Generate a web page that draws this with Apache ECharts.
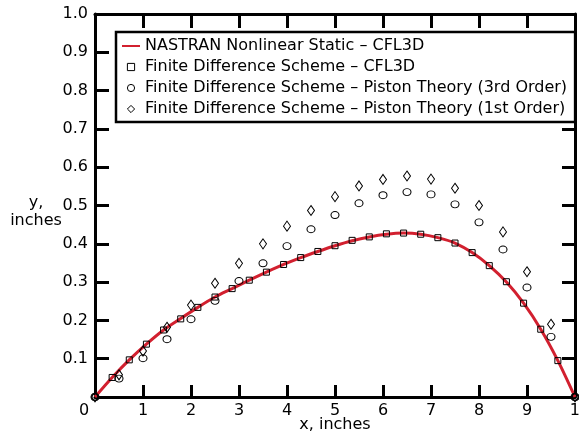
<!DOCTYPE html>
<html>
<head>
<meta charset="utf-8">
<script src="https://cdn.jsdelivr.net/npm/echarts@6/dist/echarts.min.js"></script>
<style>
    html, body { margin: 0; padding: 0; background: #fff; }
    #chart { width: 579px; height: 436px; }
</style>
</head>
<body>
<div id="chart"></div>
<script>
// x positions of the CFL3D / NASTRAN points (inches)
var fdX = [0, 0.357, 0.714, 1.071, 1.429, 1.786, 2.143, 2.5, 2.857, 3.214, 3.571, 3.929, 4.286, 4.643,
    5.0, 5.357, 5.714, 6.071, 6.429, 6.786, 7.143, 7.5, 7.857, 8.214, 8.571, 8.929, 9.286, 9.643, 10];
var nastranY = [0, 0.051, 0.097, 0.138, 0.175, 0.205, 0.234, 0.261, 0.283, 0.305, 0.326, 0.346, 0.364, 0.380,
    0.395, 0.408, 0.418, 0.425, 0.428, 0.425, 0.416, 0.402, 0.377, 0.343, 0.300, 0.245, 0.177, 0.095, 0];
var fdCfl3dY = [0, 0.051, 0.097, 0.138, 0.175, 0.204, 0.234, 0.261, 0.283, 0.305, 0.326, 0.346, 0.364, 0.380,
    0.395, 0.409, 0.418, 0.426, 0.428, 0.425, 0.416, 0.402, 0.377, 0.343, 0.301, 0.245, 0.177, 0.095, 0];
// piston theory points
var pistonX = [0, 0.5, 1, 1.5, 2, 2.5, 3, 3.5, 4, 4.5, 5, 5.5, 6, 6.5, 7, 7.5, 8, 8.5, 9, 9.5, 10];
var piston3Y = [0, 0.048, 0.101, 0.151, 0.203, 0.251, 0.303, 0.349, 0.394, 0.438, 0.475, 0.506, 0.527, 0.535,
    0.529, 0.503, 0.456, 0.385, 0.286, 0.157, 0];
var piston1Y = [0, 0.058, 0.120, 0.182, 0.240, 0.297, 0.349, 0.400, 0.446, 0.487, 0.523, 0.551, 0.568, 0.577,
    0.569, 0.545, 0.500, 0.431, 0.327, 0.190, 0];
var seriesNames = [
    'NASTRAN Nonlinear Static \u2013 CFL3D',
    'Finite Difference Scheme \u2013 CFL3D',
    'Finite Difference Scheme \u2013 Piston Theory (3rd Order)',
    'Finite Difference Scheme \u2013 Piston Theory (1st Order)'
];

function pairs(xs, ys) {
    return xs.map(function (x, i) {
        return [x, ys[i]];
    });
}

var font = 'DejaVu Sans';
var markerStyle = {color: 'rgba(0,0,0,0)', borderColor: '#000', borderWidth: 1};
var hiddenLine = {width: 0, opacity: 0};
var axisLine = {onZero: false, lineStyle: {color: '#000', width: 3}};

var chart = echarts.init(document.getElementById('chart'));
var option = {
    animation: false,
    backgroundColor: '#fff',
    textStyle: {fontFamily: font, color: '#000'},
    grid: {left: 95, right: 4, top: 14, bottom: 39, outerBoundsMode: 'none', containLabel: false},
    // y axis title, two lines
    graphic: [{
        type: 'text',
        x: 36,
        y: 212,
        style: {
            text: 'y,\ninches',
            fontFamily: font,
            fontSize: 16,
            lineHeight: 18,
            fill: '#000',
            textAlign: 'center',
            textVerticalAlign: 'middle'
        }
    }],
    legend: {
        orient: 'vertical',
        left: 116,
        top: 32,
        padding: [6, 8, 5, 5],
        borderColor: '#000',
        borderWidth: 2.5,
        backgroundColor: '#fff',
        itemWidth: 18,
        itemHeight: 9,
        itemGap: 5,
        selectedMode: false,
        itemStyle: {borderWidth: 1},
        textStyle: {fontFamily: font, fontSize: 16, color: '#000', lineHeight: 16},
        data: [
            {name: seriesNames[0], itemStyle: {opacity: 0}},
            seriesNames[1], seriesNames[2], seriesNames[3]
        ]
    },
    xAxis: [
        {
            type: 'value', min: 0, max: 10, interval: 1,
            name: 'x, inches', nameLocation: 'middle', nameGap: 20, nameMoveOverlap: false,
            nameTextStyle: {fontFamily: font, fontSize: 16, color: '#000'},
            axisLine: axisLine,
            axisTick: {inside: true, length: 12, lineStyle: {color: '#000', width: 3}},
            splitLine: {show: false},
            axisLabel: {
                fontFamily: font, fontSize: 16, color: '#000', margin: 6,
                formatter: function (v) {
                    if (v === 0) {
                        return '{l|0}';
                    }
                    if (v === 10) {
                        return '{r|10}';
                    }
                    return v;
                },
                rich: {
                    l: {fontFamily: font, fontSize: 16, color: '#000', padding: [0, 22, 0, 0]},
                    r: {fontFamily: font, fontSize: 16, color: '#000', padding: [0, 0, 0, 10]}
                }
            }
        },
        {
            type: 'value', position: 'top', min: 0, max: 10, interval: 1,
            axisLine: axisLine,
            axisTick: {inside: true, length: 14, lineStyle: {color: '#000', width: 3}},
            axisLabel: {show: false},
            splitLine: {show: false}
        }
    ],
    yAxis: [
        {
            type: 'value', min: 0, max: 1, interval: 0.1,
            axisLine: axisLine,
            axisTick: {inside: true, length: 14, lineStyle: {color: '#000', width: 3}},
            splitLine: {show: false},
            axisLabel: {
                fontFamily: font, fontSize: 16, color: '#000', margin: 7, showMinLabel: false,
                formatter: function (v) {
                    return v.toFixed(1);
                }
            }
        },
        {
            type: 'value', position: 'right', min: 0, max: 1, interval: 0.1,
            axisLine: axisLine,
            axisTick: {inside: true, length: 13, lineStyle: {color: '#000', width: 3}},
            axisLabel: {show: false},
            splitLine: {show: false}
        }
    ],
    series: [
        {
            name: seriesNames[0],
            type: 'line',
            smooth: 0.3,
            symbol: 'circle',
            showSymbol: false,
            lineStyle: {color: '#d2202f', width: 3},
            itemStyle: {color: '#d2202f'},
            data: pairs(fdX, nastranY)
        },
        {
            name: seriesNames[1],
            type: 'line',
            symbol: 'rect',
            symbolSize: 6,
            lineStyle: hiddenLine,
            itemStyle: markerStyle,
            data: pairs(fdX, fdCfl3dY)
        },
        {
            name: seriesNames[2],
            type: 'line',
            symbol: 'circle',
            symbolSize: [8, 7],
            lineStyle: hiddenLine,
            itemStyle: markerStyle,
            data: pairs(pistonX, piston3Y)
        },
        {
            name: seriesNames[3],
            type: 'line',
            symbol: 'diamond',
            symbolSize: [7, 10],
            lineStyle: hiddenLine,
            itemStyle: markerStyle,
            data: pairs(pistonX, piston1Y)
        }
    ]
};
chart.setOption(option);
</script>
</body>
</html>
